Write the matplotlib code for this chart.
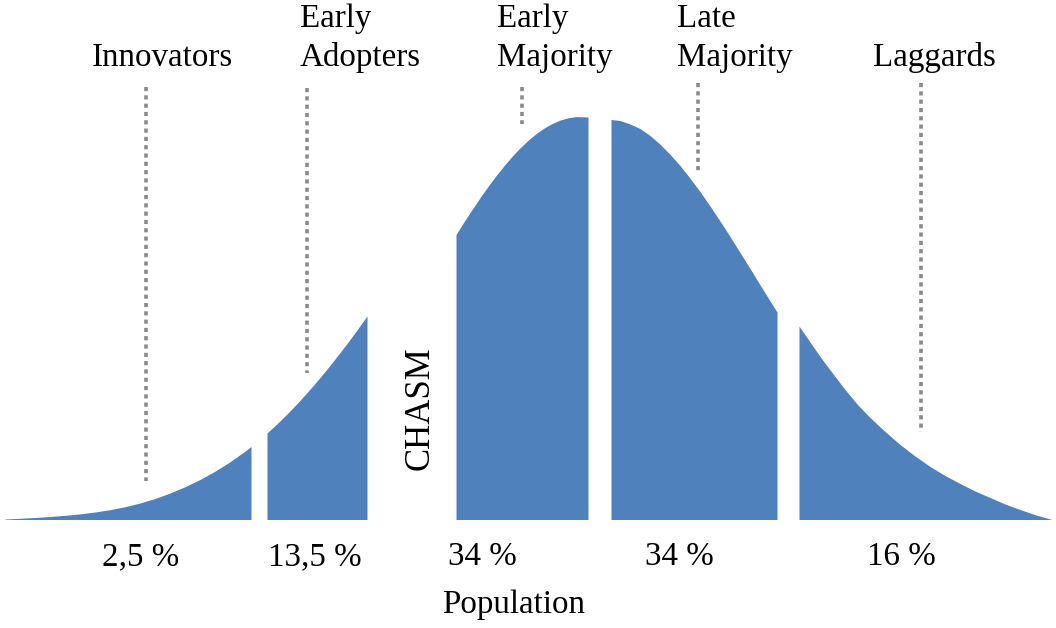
import matplotlib.pyplot as plt

# adopter groups and their share of the population
groups = ["Innovators", "Early\nAdopters", "Early\nMajority", "Late\nMajority", "Laggards"]
shares = ["2,5 %", "13,5 %", "34 %", "34 %", "16 %"]

# top edge of every segment of the bell curve (x, height above baseline)
innov_x = [5, 20, 35, 50, 65, 80, 95, 110, 125, 140, 155, 170, 185, 200, 215, 230, 245, 251]
innov_h = [0.5, 1.2, 2, 3, 4.2, 5.6, 7.5, 9.8, 12.8, 16.5, 21, 26.5, 32.8, 40, 48.3, 57.7, 68.4, 73]
early_ad_x = [267, 277, 287, 297, 307, 317, 327, 337, 347, 357, 367]
early_ad_h = [86.5, 95.7, 105.5, 115.9, 126.9, 138.4, 150.4, 163.1, 176, 189.6, 203.5]
early_maj_x = [456, 464, 472, 480, 488, 496, 504, 512, 520, 528, 536, 544, 552, 560, 568, 576, 588]
early_maj_h = [285, 297.7, 309.9, 321.8, 333.1, 343.8, 353.8, 363.1, 371.6, 379.2, 385.8,
               391.4, 395.9, 399.4, 401.7, 402.9, 402.5]
late_maj_x = [611, 620, 630, 640, 650, 660, 670, 680, 690, 700, 710, 720, 730, 740, 750, 760, 770, 777]
late_maj_h = [400, 399, 395.5, 391, 384, 375.3, 365.2, 354, 341.3, 328, 313.5, 298.5, 283,
              267, 251, 234.7, 218.6, 207.5]
lag_x = [799, 810, 820, 832, 845, 857, 870, 885, 900, 915, 930, 945, 960, 975, 990, 1005, 1020, 1036, 1052]
lag_h = [193.5, 177.5, 163, 147, 130, 115.5, 102, 88, 75, 63.5, 53, 44, 36, 28.5, 22, 15.5, 10, 4.5, 0]

segments = [(innov_x, innov_h), (early_ad_x, early_ad_h), (early_maj_x, early_maj_h),
            (late_maj_x, late_maj_h), (lag_x, lag_h)]

BASE = 519.5
BLUE = '#4F81BD'
FS = 23.8
plt.rcParams['font.family'] = ['Liberation Serif', 'DejaVu Serif']

fig = plt.figure(figsize=(10.56, 6.28), dpi=100)
ax = fig.add_axes([0, 0, 1, 1])
ax.set_xlim(0, 1056)
ax.set_ylim(628, 0)
ax.axis('off')

for xs, hs in segments:
    ax.fill_between(xs, [BASE - h for h in hs], BASE, color=BLUE, lw=0)

# group names on top, with dotted pointer lines
name_left = [92, 300, 497, 677, 873]
line_x = [146, 307, 522, 698, 921]
line_top = [87, 88, 87, 83, 83]
line_bottom = [481, 373, 124, 173, 432]
for i, name in enumerate(groups):
    lines = name.split("\n")
    baselines = [27, 66][-len(lines):]
    for txt, yb in zip(lines, baselines):
        ax.text(name_left[i], yb, txt, fontsize=FS, ha='left', va='baseline')
    ax.plot([line_x[i], line_x[i]], [line_top[i], line_bottom[i]], color='#8a8a8a',
            lw=2.6, linestyle=(0, (1.15, 1.15)), solid_capstyle='butt')

# percentages under the curve
share_left = [102, 268, 448, 645, 867]
for i, s in enumerate(shares):
    ax.text(share_left[i], 565, s, fontsize=FS, ha='left', va='baseline')

ax.text(442, 613, "Population", fontsize=FS, ha='left', va='baseline')
ax.text(420, 408, "CHASM", fontsize=25, rotation=90, ha='center', va='center')

plt.savefig("out.png", dpi=100)
